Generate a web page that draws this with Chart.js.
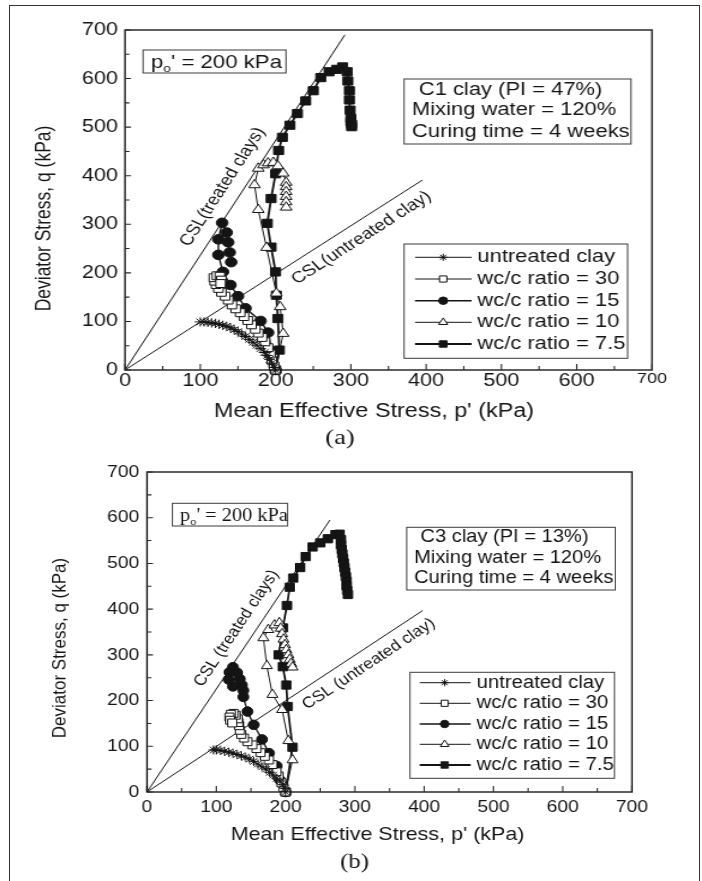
<!DOCTYPE html>
<html lang="en">
<head>
  <meta charset="UTF-8">
  <title>Undrained stress paths – C1 and C3 clays</title>
  <script src="https://cdn.jsdelivr.net/npm/chart.js"></script>
  <style>
    body { margin: 0; background: #fff; }
    .page { position: relative; width: 702px; height: 881px; overflow: hidden; background: #fff; }
    .frame { position: absolute; left: 9px; top: 5px; width: 689px; height: 900px;
             border: 1.5px solid #333; border-bottom: none; }
    .panel { position: absolute; left: 0; transform-origin: 0 0; }
    #panelA { top: 0; transform: scaleX(1.2); }
    #panelB { top: 440px; transform: scaleX(1.13); }
  </style>
</head>
<body>
<div class="page">
  <div class="frame"></div>
  <div class="panel" id="panelA"><canvas id="chartA" width="585" height="460"></canvas></div>
  <div class="panel" id="panelB"><canvas id="chartB" width="621" height="441"></canvas></div>
</div>

<script>
  const FAMILY = '"Liberation Sans", Arial, sans-serif';
  const SERIF = '"Liberation Serif", "Times New Roman", serif';
  const INK = '#141414';

  const pTicks = [0, 100, 200, 300, 400, 500, 600, 700];
  const qTicks = [0, 100, 200, 300, 400, 500, 600, 700];
  const minorStep = 50;
  const p0 = 200; // initial mean effective stress, kPa

  const seriesLabels = ['untreated clay', 'wc/c ratio = 30', 'wc/c ratio = 15', 'wc/c ratio = 10', 'wc/c ratio = 7.5'];

  // (a) C1 clay, [p', q] in kPa
  const c1Untreated = [[200,0],[198,5],[195,14],[192,22],[189,30],[185,36],[180,44],[175,51],[170,57],[165,63],[160,69],[155,74],[150,79],[145,83],[140,87],[135,90],[130,92],[125,94],[120,96],[115,97],[110,98],[105,99],[100,99]];
  const c1Wc30 = [[200,0],[198,8],[195,20],[193,33],[190,46],[186,58],[182,67],[177,76],[173,84],[168,93],[163,102],[158,110],[153,118],[147,126],[142,134],[137,144],[133,152],[128,160],[124,168],[121,176],[119,183],[118,190],[122,194],[126,193],[128,185],[127,178]];
  const c1Wc15 = [[200,0],[195,38],[190,77],[180,101],[160,127],[150,152],[140,175],[130,202],[124,237],[124,269],[129,303],[135,283],[137,263],[139,242],[141,222]];
  const c1Wc10 = [[200,0],[210,75],[206,130],[201,158],[188,252],[177,330],[172,381],[177,415],[184,422],[190,426],[197,427],[203,420],[210,405],[214,386],[214,377],[214,367],[214,357],[214,346],[214,335]];
  const c1Wc75 = [[200,0],[205,41],[203,106],[201,154],[200,202],[194,253],[189,302],[194,353],[200,404],[204,452],[209,479],[219,504],[229,528],[240,554],[250,575],[260,602],[271,614],[281,619],[289,624],[295,614],[296,595],[298,575],[298,556],[299,535],[300,518],[300,511],[301,506],[301,501]];
  const c1CslTreated = [[0,0],[292,690]];
  const c1CslUntreated = [[0,0],[395,391]];
  const c1Info = ['C1 clay (PI = 47%)', 'Mixing water = 120%', 'Curing time = 4 weeks'];

  // (b) C3 clay
  const c3Untreated = [[200,0],[199,8],[196,16],[192,24],[187,30],[182,37],[177,43],[172,50],[166,55],[160,61],[154,67],[148,72],[142,76],[136,79],[130,82],[124,85],[118,87],[112,89],[106,91],[100,92],[96,92]];
  const c3Wc30 = [[200,0],[197,10],[194,20],[190,35],[187,44],[181,60],[176,70],[170,78],[164,86],[158,95],[152,103],[145,110],[140,118],[136,126],[134,135],[133,145],[132,152],[131,160],[128,168],[125,172],[121,170],[119,164],[120,157],[123,151]];
  const c3Wc15 = [[200,0],[192,26],[187,57],[176,85],[166,115],[154,147],[145,176],[139,208],[139,222],[137,234],[134,247],[130,261],[124,273],[119,262],[118,246],[124,231]];
  const c3Wc10 = [[200,0],[210,70],[204,112],[195,180],[181,213],[173,276],[168,337],[175,355],[184,365],[191,370],[193,358],[195,346],[197,334],[199,322],[201,311],[204,300],[206,290],[208,281],[210,273]];
  const c3Wc75 = [[200,0],[210,98],[203,187],[201,234],[196,274],[190,300],[196,359],[202,408],[206,448],[211,468],[221,491],[229,515],[239,536],[250,545],[261,554],[272,563],[278,564],[280,552],[280,541],[281,531],[282,521],[283,511],[284,501],[285,491],[286,481],[287,471],[288,461],[288,451],[289,441],[290,432]];
  const c3CslTreated = [[0,0],[264,595]];
  const c3CslUntreated = [[0,0],[398,397]];
  const c3Info = ['C3 clay (PI = 13%)', 'Mixing water = 120%', 'Curing time = 4 weeks'];

  const markers = [
    { pointStyle: 'star',     radius: 4.6, fill: INK },
    { pointStyle: 'rect',     radius: 5.6, fill: '#fff' },
    { pointStyle: 'circle',   radius: 4.8, fill: INK },
    { pointStyle: 'triangle', radius: 5.6, fill: '#fff' },
    { pointStyle: 'rect',     radius: 5.8, fill: INK }
  ];
  const lineWidths = [1, 1, 1.4, 1, 1.8];

  const font = (size, fam) => `${size}px ${fam || FAMILY}`;

  // panel geometry in canvas pixels (canvas is stretched by sx on the page)
  const panelA = {
    sx: 1.2, w: 585, h: 460,
    area: { left: 104.17, top: 30, right: 543.33, bottom: 370 },
    series: [c1Untreated, c1Wc30, c1Wc15, c1Wc10, c1Wc75],
    tickSize: 18, tickPadX: 0, tickPadY: 6, smallLast: true,
    yTitle: { x: 37.3, y: 218.5, size: 17.5 },
    xTitle: { x: 311.7, y: 412, size: 19.5 },
    caption: { text: '(a)', x: 283.3, y: 438, size: 22 },
    poBox: { l: 119.2, t: 50, r: 238.3, b: 73, tx: 125.8, size: 18.5, fam: FAMILY },
    info: { l: 336.7, t: 79, r: 525.8, b: 144, lines: c1Info, at: [[349, 90], [343.3, 110.3], [343.3, 132]], size: 18.3 },
    legend: { l: 336.7, t: 244, r: 523, b: 358.3, rows: [257.3, 279, 300.7, 322.3, 344], x1: 345.8, x2: 393, mx: 369.3, tx: 397.8, size: 18.3 },
    csl: [
      { text: 'CSL(treated clays)', line: c1CslTreated, at: [129.7, 377], size: 16 },
      { text: 'CSL(untreated clay)', line: c1CslUntreated, at: [314, 272], size: 16 }
    ]
  };

  const panelB = {
    sx: 1.13, w: 621, h: 441,
    area: { left: 130.09, top: 32, right: 559.29, bottom: 352 },
    series: [c3Untreated, c3Wc30, c3Wc15, c3Wc10, c3Wc75],
    tickSize: 17, tickPadX: 5, tickPadY: 7, smallLast: false,
    yTitle: { x: 53.1, y: 208, size: 17 },
    xTitle: { x: 334.1, y: 395, size: 19 },
    caption: { text: '(b)', x: 313.8, y: 422.5, size: 22 },
    poBox: { l: 152.6, t: 63.3, r: 254.4, b: 86, tx: 159.3, size: 18, fam: SERIF },
    info: { l: 359.9, t: 87.3, r: 544.5, b: 150, lines: c3Info, at: [[372.1, 97.3], [366.4, 118.3], [366.4, 138.3]], size: 17.8 },
    legend: { l: 362.8, t: 232.3, r: 543.8, b: 338.3, rows: [242.7, 263.3, 284, 304.3, 325], x1: 371.4, x2: 416.5, mx: 393.5, tx: 421.7, size: 18 },
    csl: [
      { text: 'CSL (treated clays)', line: c3CslTreated, at: [129.2, 358], size: 15.5 },
      { text: 'CSL (untreated clay)', line: c3CslUntreated, at: [320, 280], size: 15.5 }
    ]
  };

  function paperPlugin(P) {
    return {
      id: 'paper',
      beforeDatasetsDraw(chart) {
        const { ctx, chartArea: a, scales: { x, y } } = chart;
        ctx.save();
        ctx.strokeStyle = '#2b2b2b';
        ctx.lineWidth = 1.5;
        ctx.strokeRect(a.left, a.top, a.right - a.left, a.bottom - a.top);
        ctx.lineWidth = 1.1;
        ctx.beginPath();
        for (let v = x.min; v <= x.max; v += minorStep) {
          const len = v % 100 ? 4 : 6;
          const px = x.getPixelForValue(v);
          ctx.moveTo(px, a.bottom);
          ctx.lineTo(px, a.bottom - len);
        }
        for (let v = y.min; v <= y.max; v += minorStep) {
          const len = (v % 100 ? 4.5 : 6) / P.sx;
          const py = y.getPixelForValue(v);
          ctx.moveTo(a.left, py);
          ctx.lineTo(a.left + len, py);
        }
        ctx.stroke();
        ctx.restore();
      },
      afterDraw(chart) {
        const { ctx, scales: { x, y } } = chart;
        ctx.save();
        ctx.fillStyle = INK;
        ctx.strokeStyle = INK;
        ctx.textAlign = 'center';
        ctx.textBaseline = 'middle';

        // axis titles and caption
        ctx.font = font(P.xTitle.size);
        ctx.fillText("Mean Effective Stress, p' (kPa)", P.xTitle.x, P.xTitle.y);
        ctx.save();
        ctx.translate(P.yTitle.x, P.yTitle.y);
        ctx.rotate(-Math.PI / 2);
        ctx.font = font(P.yTitle.size);
        ctx.fillText('Deviator Stress, q (kPa)', 0, 0);
        ctx.restore();
        ctx.font = font(P.caption.size, SERIF);
        ctx.fillText(P.caption.text, P.caption.x, P.caption.y);

        // critical state line labels, laid along each line
        P.csl.forEach(c => {
          const [a0, a1] = c.line;
          const ang = Math.atan2(y.getPixelForValue(a1[1]) - y.getPixelForValue(a0[1]),
                                 x.getPixelForValue(a1[0]) - x.getPixelForValue(a0[0]));
          ctx.save();
          ctx.translate(x.getPixelForValue(c.at[0]), y.getPixelForValue(c.at[1]));
          ctx.rotate(ang);
          ctx.font = font(c.size);
          ctx.fillText(c.text, 0, 0);
          ctx.restore();
        });

        // boxes
        ctx.strokeStyle = '#3a3a3a';
        ctx.lineWidth = 1;
        const box = b => ctx.strokeRect(b.l, b.t, b.r - b.l, b.b - b.t);

        const pb = P.poBox;
        box(pb);
        ctx.textAlign = 'left';
        ctx.textBaseline = 'alphabetic';
        const base = (pb.t + pb.b) / 2 + pb.size * 0.36;
        ctx.font = font(pb.size, pb.fam);
        ctx.fillText('p', pb.tx, base);
        let cx = pb.tx + ctx.measureText('p').width;
        ctx.font = font(pb.size * 0.62, pb.fam);
        ctx.fillText('o', cx, base + pb.size * 0.22);
        cx += ctx.measureText('o').width;
        ctx.font = font(pb.size, pb.fam);
        ctx.fillText(`' = ${p0} kPa`, cx, base);

        const inf = P.info;
        box(inf);
        ctx.textBaseline = 'middle';
        ctx.font = font(inf.size);
        inf.lines.forEach((t, i) => ctx.fillText(t, inf.at[i][0], inf.at[i][1]));

        const lg = P.legend;
        box(lg);
        seriesLabels.forEach((label, i) => {
          const ry = lg.rows[i];
          ctx.strokeStyle = INK;
          ctx.lineWidth = lineWidths[i];
          ctx.beginPath();
          ctx.moveTo(lg.x1, ry);
          ctx.lineTo(lg.x2, ry);
          ctx.stroke();
          ctx.lineWidth = 1;
          ctx.fillStyle = markers[i].fill;
          Chart.helpers.drawPoint(ctx, {
            pointStyle: markers[i].pointStyle, radius: markers[i].radius * 0.78,
            rotation: 0, borderWidth: 1
          }, lg.mx, ry);
          ctx.fillStyle = INK;
          ctx.font = font(lg.size);
          ctx.fillText(label, lg.tx, ry);
        });
        ctx.restore();
      }
    };
  }

  function stressPathChart(canvasId, P) {
    const toPts = rows => rows.map(([p, q]) => ({ x: p, y: q }));
    const datasets = P.series.map((rows, i) => ({
      label: seriesLabels[i],
      data: toPts(rows),
      showLine: true,
      borderColor: INK,
      borderWidth: lineWidths[i],
      pointStyle: markers[i].pointStyle,
      pointRadius: markers[i].radius,
      pointBackgroundColor: markers[i].fill,
      pointBorderColor: INK,
      pointBorderWidth: 1,
      clip: false
    }));
    P.csl.forEach(c => datasets.push({
      label: c.text,
      data: toPts(c.line),
      showLine: true,
      borderColor: INK,
      borderWidth: 1,
      pointRadius: 0
    }));

    const xh = 60;
    return new Chart(document.getElementById(canvasId), {
      type: 'scatter',
      data: { datasets },
      options: {
        responsive: false,
        animation: false,
        devicePixelRatio: 1,
        layout: {
          padding: { left: 0, top: P.area.top, right: P.w - P.area.right, bottom: P.h - P.area.bottom - xh }
        },
        plugins: { legend: { display: false }, tooltip: { enabled: false } },
        scales: {
          x: {
            type: 'linear', position: 'bottom', min: 0, max: 700,
            afterBuildTicks: s => { s.ticks = pTicks.map(v => ({ value: v })); },
            afterFit: s => { s.height = xh; },
            grid: { display: false, drawTicks: false },
            border: { display: false },
            ticks: {
              color: INK, padding: P.tickPadX, maxRotation: 0, minRotation: 0, autoSkip: false,
              font: c => ({ family: FAMILY, size: (P.smallLast && c.tick && c.tick.value === 700) ? 15 : P.tickSize })
            }
          },
          y: {
            type: 'linear', position: 'left', min: 0, max: 700,
            afterBuildTicks: s => { s.ticks = qTicks.map(v => ({ value: v })); },
            afterFit: s => { s.width = P.area.left; },
            grid: { display: false, drawTicks: false },
            border: { display: false },
            ticks: { color: INK, padding: P.tickPadY, autoSkip: false, font: { family: FAMILY, size: P.tickSize } }
          }
        }
      },
      plugins: [paperPlugin(P)]
    });
  }

  stressPathChart('chartA', panelA);
  stressPathChart('chartB', panelB);
</script>
</body>
</html>
